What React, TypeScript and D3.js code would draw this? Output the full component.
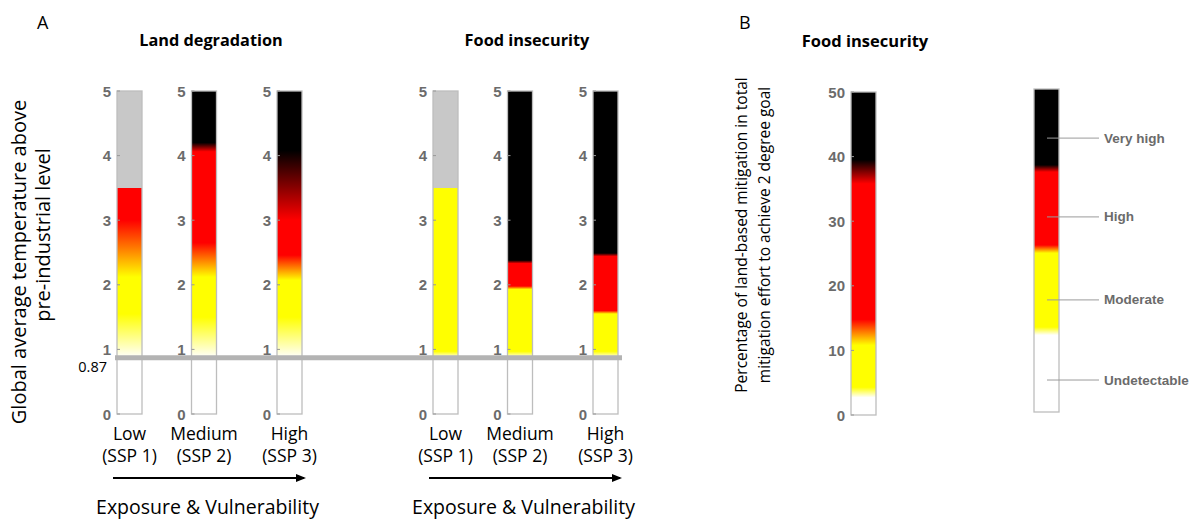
import * as d3 from 'd3';

// temperature columns (panel A): colour stops as [temperature, colour]
const YELLOW = '#ffff00';
const RED = '#ff0000';
const BLACK = '#000000';
const WHITE = '#ffffff';
const GREY = '#c8c8c8';

const riskLevels = ['Low', 'Medium', 'High'];
const sspLabels = ['(SSP 1)', '(SSP 2)', '(SSP 3)'];

const landStops = [
  [[0.87, WHITE], [1.55, YELLOW], [2.12, YELLOW], [2.55, '#ff8000'], [3.0, RED], [3.5, RED], [3.5, GREY], [5, GREY]],
  [[0.87, WHITE], [1.5, YELLOW], [2.12, YELLOW], [2.65, RED], [4.06, RED], [4.2, BLACK], [5, BLACK]],
  [[0.87, WHITE], [1.5, YELLOW], [2.07, YELLOW], [2.46, RED], [3.0, RED], [4.08, BLACK], [5, BLACK]],
];

const foodStops = [
  [[0.87, WHITE], [0.97, YELLOW], [3.5, YELLOW], [3.5, GREY], [5, GREY]],
  [[0.87, WHITE], [0.97, YELLOW], [1.93, YELLOW], [1.98, RED], [2.33, RED], [2.38, BLACK], [5, BLACK]],
  [[0.87, WHITE], [0.97, YELLOW], [1.55, YELLOW], [1.6, RED], [2.44, RED], [2.49, BLACK], [5, BLACK]],
];

const tempTicks = [0, 1, 2, 3, 4, 5];
const PRE_INDUSTRIAL = 0.87;

// panel B: mitigation share (%)
const mitigationStops = [[0, WHITE], [2.7, WHITE], [4.3, YELLOW], [10.8, YELLOW], [14.8, RED], [35.8, RED], [39.5, BLACK], [50, BLACK]];
const mitigationTicks = [0, 10, 20, 30, 40, 50];

// legend column: stops as fraction of the bar
const legendStops = [[0, WHITE], [0.238, WHITE], [0.263, YELLOW], [0.492, YELLOW], [0.517, RED], [0.743, RED], [0.765, BLACK], [1, BLACK]];
const legendLabels = ['Very high', 'High', 'Moderate', 'Undetectable'];
const legendLabelPos = [0.848, 0.604, 0.347, 0.099];

const COL_W = 25;
const TICK_COLOR = '#6b6b6b';
const BORDER = '#bdbdbd';
const CALIBRI = "'Open Sans', sans-serif";
const ARIAL = "'Liberation Sans', Arial, sans-serif";

const yTemp = d3.scaleLinear().domain([0, 5]).range([414, 91]);
const yMit = d3.scaleLinear().domain([0, 50]).range([415, 92]);
const yLeg = d3.scaleLinear().domain([0, 1]).range([412, 89]);

// horizontal position of columns inside a group (uneven spacing as in the figure)
const xInGroup = d3.scaleOrdinal<string, number>().domain(riskLevels).range([0, 74.5, 160]);

type Stop = (string | number)[];

const Gradient = ({ id, stops, lo, hi, scale }: { id: string; stops: Stop[]; lo: number; hi: number; scale: any }) => (
  <linearGradient id={id} gradientUnits="userSpaceOnUse" x1={0} x2={0} y1={scale(lo)} y2={scale(hi)}>
    {stops.map((s, i) => (
      <stop key={i} offset={((s[0] as number) - lo) / (hi - lo)} stopColor={s[1] as string} />
    ))}
  </linearGradient>
);

const Column = ({ id, x, stops, lo, hi, top, bottom, scale, ticks }: any) => (
  <g>
    <defs>
      <Gradient id={id} stops={stops} lo={lo} hi={hi} scale={scale} />
    </defs>
    <rect x={x} y={scale(hi)} width={COL_W} height={scale(lo) - scale(hi)} fill={`url(#${id})`} />
    <rect x={x} y={scale(top)} width={COL_W} height={scale(bottom) - scale(top)} fill="none" stroke={BORDER} strokeWidth={1.3} />
    {ticks &&
      ticks.map((t: number) => (
        <g key={t}>
          <line x1={x} x2={x + 3} y1={scale(t)} y2={scale(t)} stroke="#999" />
          <text
            x={x - 6}
            y={scale(t)}
            textAnchor="end"
            dominantBaseline="central"
            fontFamily={ARIAL}
            fontWeight="bold"
            fontSize={15}
            fill={TICK_COLOR}
          >
            {t}
          </text>
        </g>
      ))}
  </g>
);

const Group = ({ name, x0, title, stops }: { name: string; x0: number; title: string; stops: Stop[][] }) => {
  const left = x0;
  const right = x0 + (xInGroup('High') as number) + COL_W;
  const mid = (left + right) / 2;
  return (
    <g>
      <text x={mid + 1.5} y={46} textAnchor="middle" fontFamily={CALIBRI} fontWeight="bold" fontSize={16.3}>
        {title}
      </text>
      {riskLevels.map((lvl, i) => {
        const x = x0 + (xInGroup(lvl) as number);
        return (
          <g key={lvl}>
            <Column id={`${name}-${i}`} x={x} stops={stops[i]} lo={PRE_INDUSTRIAL} hi={5} top={5} bottom={0} scale={yTemp} ticks={tempTicks} />
            <text x={x + COL_W / 2} y={440} textAnchor="middle" fontFamily={CALIBRI} fontSize={17.5}>
              {lvl}
            </text>
            <text x={x + COL_W / 2} y={462} textAnchor="middle" fontFamily={CALIBRI} fontSize={17.5}>
              {sspLabels[i]}
            </text>
          </g>
        );
      })}
      <line x1={left - 4} x2={right + 2} y1={478} y2={478} stroke="#000" strokeWidth={2} markerEnd="url(#arrow)" />
      <text x={mid - 2} y={514} textAnchor="middle" fontFamily={CALIBRI} fontSize={19.5}>
        Exposure &amp; Vulnerability
      </text>
    </g>
  );
};

export default function App() {
  return (
    <svg width={1195} height={520} style={{ position: 'absolute', left: 0, top: 0, background: '#fff' }}>
      <defs>
        <marker id="arrow" viewBox="0 0 10 10" refX={8} refY={5} markerWidth={5} markerHeight={5} orient="auto">
          <path d="M0,1 L10,5 L0,9 Z" fill="#000" />
        </marker>
      </defs>

      {/* panel A */}
      <text x={37} y={29} fontFamily={CALIBRI} fontSize={18}>A</text>
      <g fontFamily={CALIBRI} fontSize={20} textAnchor="middle">
        <text transform={`translate(26,262) rotate(-90)`}>Global average temperature above</text>
        <text transform={`translate(50,235) rotate(-90)`}>pre-industrial level</text>
      </g>
      <Group name="land" x0={117} title="Land degradation" stops={landStops} />
      <Group name="food" x0={433} title="Food insecurity" stops={foodStops} />
      <line x1={115} x2={622} y1={yTemp(PRE_INDUSTRIAL)} y2={yTemp(PRE_INDUSTRIAL)} stroke="#b3b3b3" strokeWidth={5} />
      <text x={107} y={372} textAnchor="end" fontFamily={CALIBRI} fontSize={14.5}>0.87</text>

      {/* panel B */}
      <text x={739} y={29} fontFamily={CALIBRI} fontSize={18}>B</text>
      <g fontFamily={CALIBRI} fontSize={15.5} textAnchor="middle">
        <text transform={`translate(747,235) rotate(-90)`}>Percentage of land-based mitigation in total</text>
        <text transform={`translate(770,235) rotate(-90)`}>mitigation effort to achieve 2 degree goal</text>
      </g>
      <text x={865} y={47} textAnchor="middle" fontFamily={CALIBRI} fontWeight="bold" fontSize={16.5}>
        Food insecurity
      </text>
      <Column id="mit" x={851} stops={mitigationStops} lo={0} hi={50} top={50} bottom={0} scale={yMit} ticks={mitigationTicks} />
      <Column id="legend" x={1034} stops={legendStops} lo={0} hi={1} top={1} bottom={0} scale={yLeg} />
      {legendLabels.map((lab, i) => (
        <g key={lab}>
          <line x1={1047} x2={1099} y1={yLeg(legendLabelPos[i])} y2={yLeg(legendLabelPos[i])} stroke="#9a9a9a" />
          <text
            x={1104}
            y={yLeg(legendLabelPos[i])}
            dominantBaseline="central"
            fontFamily={ARIAL}
            fontWeight="bold"
            fontSize={13.5}
            fill={TICK_COLOR}
          >
            {lab}
          </text>
        </g>
      ))}
    </svg>
  );
}
